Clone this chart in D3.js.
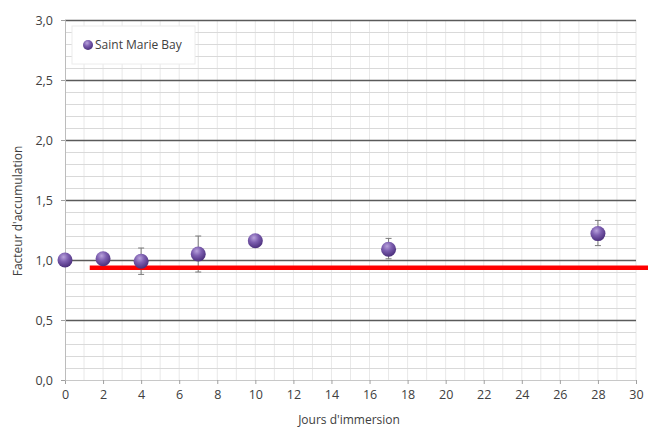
<!DOCTYPE html>
<html>
<head>
<meta charset="utf-8">
<script src="https://cdn.jsdelivr.net/npm/d3@7"></script>
<style>
  body { margin: 0; background: #fff; }
  text { font-family: "Open Sans", sans-serif; fill: #404040; }
</style>
</head>
<body>
<div id="chart"></div>
<script>
var svgWidth = 648;
var svgHeight = 428;

var margin = { top: 20, right: 12, bottom: 48, left: 65 };
var width = 571;
var height = 360;

// data
var days = [0, 2, 4, 7, 10, 17, 28];
var factor = [1.00, 1.01, 0.99, 1.05, 1.16, 1.09, 1.22];
var errPlus = [0.00, 0.00, 0.11, 0.15, 0.00, 0.09, 0.11];
var errMinus = [0.00, 0.00, 0.11, 0.15, 0.00, 0.08, 0.10];
var seriesName = "Saint Marie Bay";
var xTicks = d3.range(0, 31, 2);
var yTicks = [0, 0.5, 1, 1.5, 2, 2.5, 3];
var refLevel = 0.935;
var refStart = 1.3;
var refEnd = 31;

var svg = d3.select("#chart").append("svg")
    .attr("width", svgWidth)
    .attr("height", svgHeight);

var defs = svg.append("defs");
var grad = defs.append("radialGradient")
    .attr("id", "ball")
    .attr("cx", "40%").attr("cy", "30%").attr("r", "70%");
grad.append("stop").attr("offset", "0%").attr("stop-color", "#b9a3dc");
grad.append("stop").attr("offset", "45%").attr("stop-color", "#7d5fb0");
grad.append("stop").attr("offset", "100%").attr("stop-color", "#4b2f7c");

var chartGroup = svg.append("g")
    .attr("transform", `translate(${margin.left}, ${margin.top})`);

var x = d3.scaleLinear().domain([0, 30]).range([0, width]);
var y = d3.scaleLinear().domain([0, 3]).range([height, 0]);

// vertical minor grid
chartGroup.append("g").selectAll("line")
    .data(d3.range(1, 31))
    .enter().append("line")
    .attr("x1", d => x(d)).attr("x2", d => x(d))
    .attr("y1", 0).attr("y2", height)
    .attr("stroke", "#e8e8e8").attr("stroke-width", 1);

// horizontal minor grid
chartGroup.append("g").selectAll("line")
    .data(d3.range(1, 30).map(d => d / 10).filter(d => Math.round(d * 10) % 5 !== 0))
    .enter().append("line")
    .attr("x1", 0).attr("x2", width)
    .attr("y1", d => Math.round(y(d)) + 0.5).attr("y2", d => Math.round(y(d)) + 0.5)
    .attr("stroke", "#d9d9d9").attr("stroke-width", 1);

// horizontal major grid
chartGroup.append("g").selectAll("line")
    .data(yTicks.filter(d => d > 0))
    .enter().append("line")
    .attr("x1", 0).attr("x2", width)
    .attr("y1", d => Math.round(y(d)) + 0.5).attr("y2", d => Math.round(y(d)) + 0.5)
    .attr("stroke", "#5a5a5a").attr("stroke-width", 1.5);

// axes
var bottomAxis = d3.axisBottom(x).tickValues(xTicks).tickSize(4).tickPadding(6)
    .tickFormat(d3.format("d"));
var leftAxis = d3.axisLeft(y).tickValues(yTicks).tickSize(4).tickPadding(8)
    .tickFormat(d => d3.format(".1f")(d).replace(".", ","));

var xAxis = chartGroup.append("g")
    .attr("transform", `translate(0, ${height})`)
    .call(bottomAxis);
var yAxis = chartGroup.append("g").call(leftAxis);

[xAxis, yAxis].forEach(function (a) {
    a.select(".domain").attr("stroke", "#c8c8c8");
    a.selectAll(".tick line").attr("stroke", "#a0a0a0");
    a.selectAll(".tick text").style("font-size", "12.5px").attr("fill", "#404040");
});
yAxis.select(".domain").attr("stroke", "#bcbcbc");

// error bars
var pts = days.map((d, i) => ({ day: d, v: factor[i], hi: factor[i] + errPlus[i], lo: factor[i] - errMinus[i] }));
var err = chartGroup.append("g").selectAll("g")
    .data(pts.filter(d => d.hi > d.v || d.lo < d.v))
    .enter().append("g");
err.append("line")
    .attr("x1", d => x(d.day)).attr("x2", d => x(d.day))
    .attr("y1", d => y(d.hi)).attr("y2", d => y(d.lo))
    .attr("stroke", "#7a7a7a").attr("stroke-width", 1);
err.append("line")
    .attr("x1", d => x(d.day) - 3).attr("x2", d => x(d.day) + 3)
    .attr("y1", d => y(d.hi)).attr("y2", d => y(d.hi))
    .attr("stroke", "#7a7a7a").attr("stroke-width", 1);
err.append("line")
    .attr("x1", d => x(d.day) - 3).attr("x2", d => x(d.day) + 3)
    .attr("y1", d => y(d.lo)).attr("y2", d => y(d.lo))
    .attr("stroke", "#7a7a7a").attr("stroke-width", 1);

// red reference line
chartGroup.append("line")
    .attr("x1", x(refStart)).attr("x2", x(refEnd))
    .attr("y1", y(refLevel)).attr("y2", y(refLevel))
    .attr("stroke", "#ff0000").attr("stroke-width", 4.5);

// points
chartGroup.append("g").selectAll("circle")
    .data(pts)
    .enter().append("circle")
    .attr("cx", d => x(d.day))
    .attr("cy", d => y(d.v))
    .attr("r", 7.5)
    .attr("fill", "url(#ball)");

// legend
var legend = chartGroup.append("g").attr("transform", "translate(7, 6)");
legend.append("rect")
    .attr("width", 123).attr("height", 38)
    .attr("fill", "#fff").attr("stroke", "#ececec");
legend.append("circle")
    .attr("cx", 16).attr("cy", 19).attr("r", 5)
    .attr("fill", "url(#ball)");
legend.append("text")
    .attr("x", 23).attr("y", 23)
    .style("font-size", "12px")
    .text(seriesName);

// axis labels
svg.append("text")
    .attr("transform", "rotate(-90)")
    .attr("x", -211).attr("y", 22)
    .attr("text-anchor", "middle")
    .style("font-size", "12px")
    .text("Facteur d'accumulation");

svg.append("text")
    .attr("x", 349).attr("y", 424)
    .attr("text-anchor", "middle")
    .style("font-size", "12px")
    .text("Jours d'immersion");
</script>
</body>
</html>
